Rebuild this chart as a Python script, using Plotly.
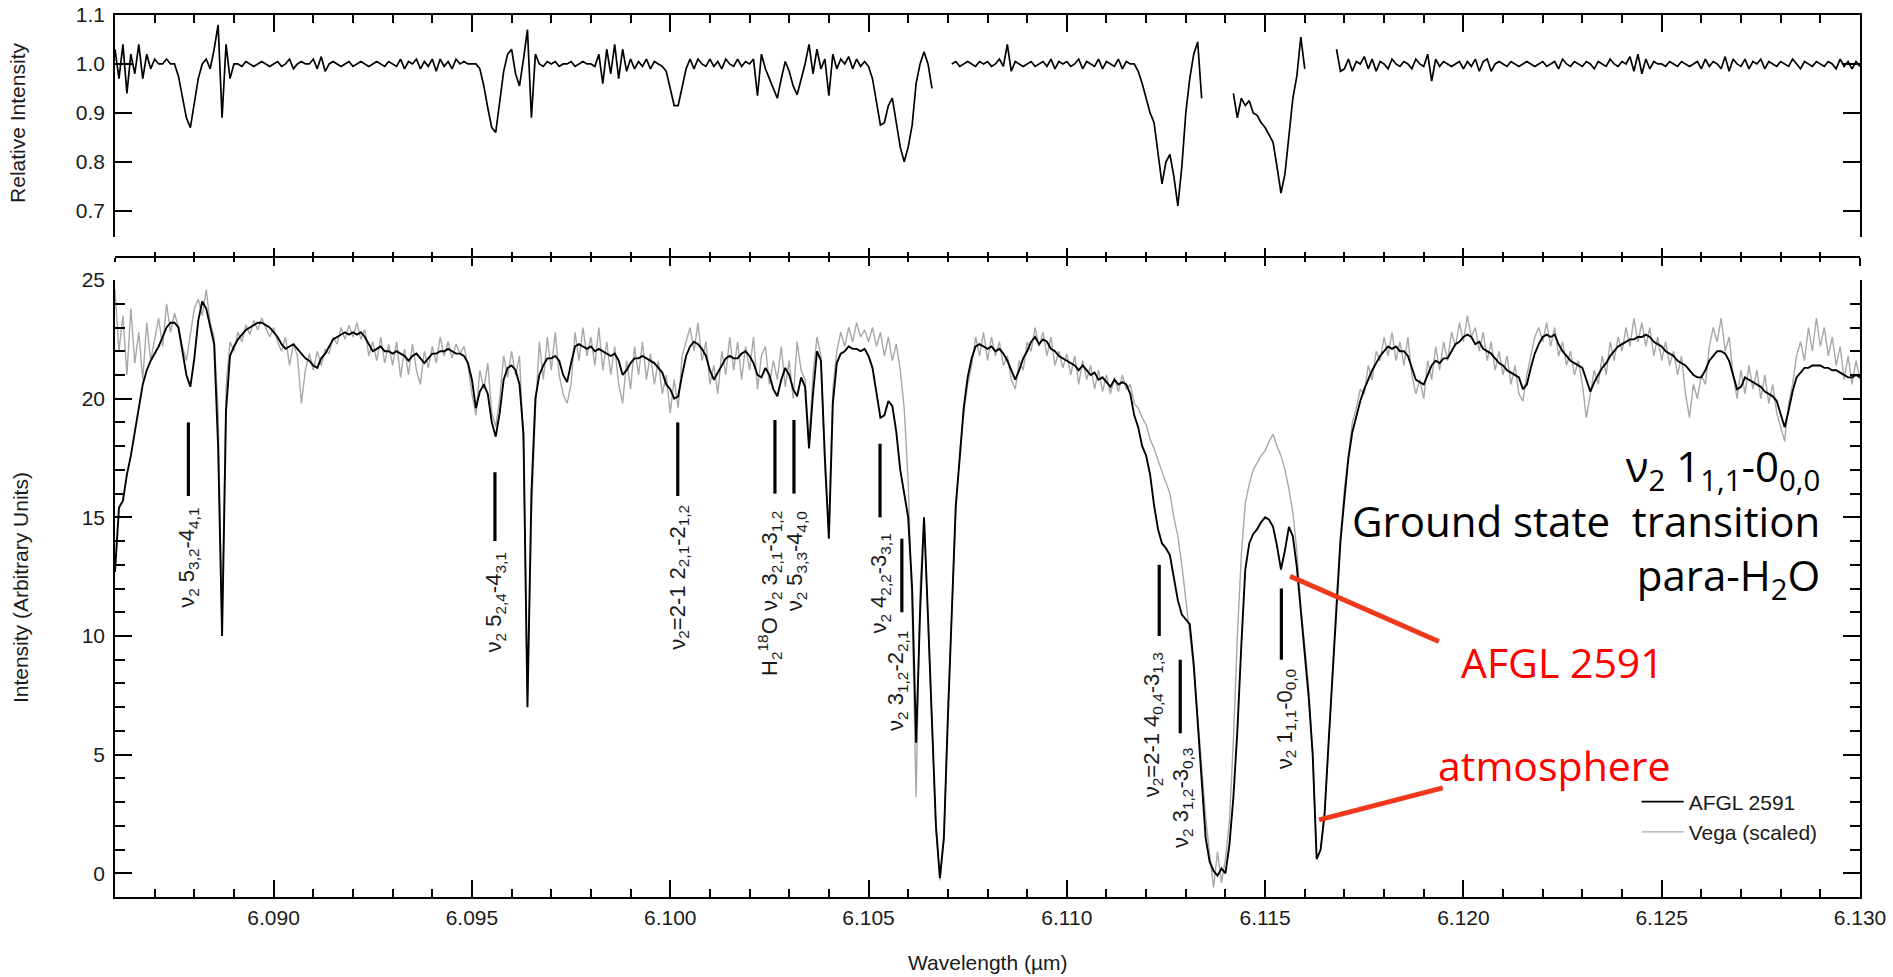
import numpy as np
import plotly.graph_objects as go

# ---------------- data ----------------
WL_START = 6.0860   # micron, first sample
WL_STEP = 0.0001    # micron, sampling step

# AFGL 2591 spectrum, bottom panel (arbitrary units), one row = 0.001 micron
AFGL_2591 = [
    12.7, 15.4, 15.7, 16.8, 17.6, 18.7, 19.6, 20.6, 21.2, 21.6,
    21.9, 22.2, 22.6, 23.0, 23.2, 23.2, 23.0, 22.0, 21.0, 20.5,
    21.7, 23.3, 24.1, 23.8, 23.1, 22.3, 18.0, 10.0, 19.5, 21.8,
    22.2, 22.5, 22.7, 22.9, 23.0, 23.1, 23.2, 23.2, 23.1, 23.0,
    22.8, 22.6, 22.3, 22.1, 22.2, 22.3, 22.1, 21.9, 21.7, 21.6,
    21.4, 21.3, 21.7, 21.9, 22.2, 22.5, 22.6, 22.7, 22.8, 22.7,
    22.8, 22.7, 22.8, 22.6, 22.3, 22.0, 22.1, 22.2, 22.0, 22.0,
    21.9, 22.0, 21.9, 21.8, 21.6, 21.8, 21.9, 21.7, 21.5, 21.7,
    21.9, 21.9, 22.0, 22.0, 22.1, 22.0, 21.9, 21.9, 21.8, 21.5,
    20.8, 19.6, 20.3, 20.6, 20.2, 19.0, 18.4, 19.4, 20.8, 21.3,
    21.4, 21.2, 20.6, 18.5, 7.0, 16.0, 20.0, 21.0, 21.4, 21.7,
    21.7, 21.8, 21.6, 21.0, 20.7, 21.5, 22.2, 22.3, 22.2, 22.1,
    22.2, 22.0, 22.1, 22.0, 21.9, 21.8, 21.9, 21.6, 21.0, 21.2,
    21.5, 21.7, 21.7, 21.8, 21.7, 21.6, 21.5, 21.3, 21.1, 20.6,
    20.4, 20.0, 20.1, 21.0, 21.8, 22.2, 22.4, 22.3, 22.1, 21.8,
    21.2, 20.8, 21.1, 21.4, 21.7, 21.8, 21.7, 21.7, 21.9, 22.0,
    21.8, 21.5, 21.0, 20.9, 21.3, 21.0, 20.4, 20.1, 20.8, 21.3,
    21.0, 20.4, 20.1, 20.9, 20.5, 17.9, 20.2, 22.0, 21.6, 17.5,
    14.1, 19.8, 21.5, 21.9, 22.0, 22.2, 22.1, 22.1, 22.0, 22.1,
    21.8, 21.3, 20.3, 19.2, 19.3, 19.9, 19.7, 18.6, 17.0, 16.0,
    15.0, 12.0, 5.5, 11.0, 15.0, 10.8, 6.2, 2.0, -0.2, 1.5,
    6.5, 11.0, 15.5, 17.5, 19.6, 20.9, 21.7, 22.2, 22.3, 22.2,
    22.1, 22.2, 22.0, 22.1, 21.9, 21.6, 21.2, 20.8, 21.2, 21.7,
    22.0, 22.4, 22.6, 22.3, 22.5, 22.4, 22.1, 22.0, 21.8, 21.7,
    21.6, 21.5, 21.4, 21.2, 21.4, 21.2, 21.0, 21.1, 20.8, 20.9,
    20.7, 20.5, 20.8, 20.6, 20.7, 20.6, 20.2, 19.3, 18.8, 18.0,
    17.6, 16.8, 15.5, 14.5, 13.9, 13.7, 13.4, 12.5, 11.5, 10.9,
    10.7, 10.5, 8.8, 6.5, 4.0, 1.5, 0.5, 0.1, -0.1, 0.2,
    0.0, 1.2, 3.2, 6.0, 9.6, 12.8, 13.9, 14.3, 14.5, 14.8,
    15.0, 14.9, 14.6, 13.8, 12.8, 13.6, 14.6, 14.2, 12.9, 11.0,
    9.2, 7.4, 5.0, 0.6, 1.0, 2.5, 5.5, 8.5, 11.5, 14.0,
    15.8, 17.5, 18.6, 19.3, 19.9, 20.4, 20.8, 21.2, 21.5, 21.8,
    22.0, 22.2, 22.1, 22.2, 22.0, 22.0, 21.8, 21.3, 20.8, 20.7,
    20.6, 21.0, 21.4, 21.6, 21.5, 21.7, 21.7, 22.0, 22.3, 22.4,
    22.6, 22.7, 22.6, 22.3, 22.4, 22.1, 22.0, 21.9, 21.7, 21.5,
    21.4, 21.2, 21.1, 21.0, 20.9, 20.4, 20.6, 21.3, 21.9, 22.3,
    22.6, 22.7, 22.6, 22.7, 22.3, 22.0, 21.8, 21.6, 21.5, 21.4,
    21.3, 20.8, 20.3, 20.7, 21.0, 21.3, 21.5, 21.8, 22.0, 22.2,
    22.3, 22.4, 22.5, 22.5, 22.6, 22.6, 22.7, 22.6, 22.4, 22.3,
    22.2, 22.0, 21.9, 21.8, 21.6, 21.5, 21.4, 21.2, 21.0, 20.9,
    20.9, 21.2, 21.6, 21.8, 22.0, 22.0, 21.9, 21.6, 21.0, 20.4,
    20.5, 20.9, 20.8, 20.7, 20.6, 20.5, 20.3, 20.2, 20.1, 19.9,
    19.4, 18.8, 19.5, 20.3, 20.9, 21.1, 21.3, 21.3, 21.4, 21.4,
    21.4, 21.3, 21.3, 21.2, 21.2, 21.1, 21.0, 20.9, 20.9, 21.0, 20.9,
]

# Vega (scaled) spectrum, bottom panel
VEGA_SCALED = [
    24.6, 22.0, 23.5, 21.0, 23.8, 21.5, 22.8, 20.8, 23.2, 21.6,
    22.5, 23.4, 22.2, 24.0, 22.8, 23.6, 23.0, 22.2, 21.6, 22.8,
    23.8, 24.2, 23.5, 24.6, 23.2, 22.6, 19.5, 10.2, 20.5, 22.4,
    22.0, 22.8, 22.4, 23.1, 22.7, 23.3, 22.9, 23.4, 23.0, 22.6,
    23.0, 22.4, 22.0, 22.6, 21.4, 22.3, 21.8, 19.8, 21.2, 21.9,
    21.2, 22.0, 21.4, 22.1, 21.9, 22.6, 22.3, 23.0, 22.5, 23.1,
    22.6, 23.2, 22.5, 22.9, 21.8, 22.4, 21.6, 22.6, 21.5, 22.3,
    21.4, 22.4, 20.9, 22.1, 21.0, 22.3, 21.2, 20.6, 22.0, 21.3,
    22.2, 21.5, 22.6, 21.8, 22.4, 21.7, 22.3, 21.9, 22.2, 21.4,
    20.2, 19.3, 21.2, 20.4, 21.5, 19.4, 18.8, 20.0, 21.8, 20.9,
    22.0, 21.0, 21.8, 18.0, 7.3, 15.0, 19.5, 22.4, 20.8, 22.6,
    21.2, 22.8, 21.0, 20.2, 19.8, 20.6, 22.8, 21.6, 23.0, 21.8,
    22.6, 21.4, 23.0, 21.2, 22.4, 21.0, 22.2, 20.6, 19.8, 21.6,
    20.4, 22.2, 21.0, 22.4, 20.8, 21.9, 20.6, 21.6, 20.2, 21.0,
    19.4, 20.8, 19.6, 21.8, 22.4, 23.0, 22.0, 23.2, 21.6, 22.4,
    20.6, 21.4, 20.2, 22.0, 21.0, 22.6, 21.2, 22.4, 20.8, 22.2,
    21.2, 22.6, 20.4, 21.8, 22.2, 20.6, 21.6, 20.8, 22.2, 20.5,
    21.6, 20.0, 22.4, 21.2, 20.8, 18.2, 21.0, 22.6, 21.8, 17.0,
    14.6, 20.4, 22.0, 22.8, 22.2, 23.0, 22.4, 23.2, 22.6, 22.9,
    22.4, 23.0, 22.2, 22.8, 21.8, 22.6, 21.6, 22.3, 21.2, 19.6,
    16.5, 11.0, 3.2, 12.0, 15.0, 10.5, 6.0, 1.8, -0.3, 1.4,
    6.8, 11.2, 15.2, 17.8, 19.4, 20.6, 21.4, 22.6, 21.8, 22.8,
    21.6, 22.6, 21.8, 22.4, 21.4, 21.8, 20.8, 20.4, 21.6, 21.2,
    22.4, 22.0, 23.0, 22.2, 22.8, 21.8, 22.6, 21.4, 22.0, 21.3,
    21.9, 21.0, 21.8, 20.6, 21.6, 20.8, 21.4, 20.4, 21.2, 20.3,
    21.0, 20.2, 20.9, 20.3, 21.0, 20.4, 20.6, 19.8, 19.6, 19.2,
    18.9, 18.3, 17.9, 17.4, 16.9, 16.4, 16.0, 15.0, 14.2, 13.0,
    11.6, 10.2, 8.6, 6.6, 4.4, 2.4, 0.8, -0.6, 0.9, -0.4,
    0.6, 2.2, 5.6, 10.0, 13.4, 15.6, 16.4, 17.0, 17.3, 17.6,
    17.8, 18.2, 18.5, 18.0, 17.6, 17.0, 16.2, 15.2, 13.6, 11.2,
    9.6, 7.8, 5.0, 0.6, 1.0, 2.6, 5.4, 8.8, 11.6, 14.2,
    16.2, 17.6, 19.0, 19.6, 20.4, 20.2, 21.4, 20.8, 22.0, 21.6,
    22.6, 21.8, 22.8, 21.6, 22.4, 21.4, 22.6, 21.0, 20.2, 20.8,
    20.0, 21.6, 20.8, 22.2, 21.2, 22.4, 21.6, 22.8, 22.2, 23.2,
    22.4, 23.5, 22.6, 23.0, 22.0, 22.8, 21.6, 22.4, 21.2, 22.0,
    21.0, 21.8, 20.6, 21.4, 20.2, 19.9, 21.0, 21.8, 22.6, 23.0,
    22.4, 23.2, 22.2, 23.0, 21.8, 22.4, 21.4, 22.0, 21.0, 21.6,
    20.6, 19.2, 20.2, 21.2, 20.6, 21.8, 21.0, 22.4, 21.6, 22.6,
    22.0, 23.0, 22.2, 23.4, 22.4, 23.2, 22.2, 23.0, 21.8, 22.6,
    21.6, 22.4, 21.4, 22.0, 21.0, 21.8, 20.2, 19.2, 20.6, 20.0,
    21.0, 20.6, 22.2, 23.0, 22.4, 23.4, 22.0, 22.6, 21.0, 20.0,
    21.2, 20.2, 21.4, 20.4, 21.2, 20.0, 21.0, 19.8, 20.6, 19.4,
    18.8, 18.2, 19.8, 20.6, 21.8, 22.4, 21.6, 23.0, 22.0, 23.4,
    22.2, 23.0, 21.8, 22.6, 21.4, 22.2, 20.8, 21.8, 20.6, 21.6, 20.8,
]

# Relative intensity, top panel (None = no data)
RELATIVE = [
    1.03, 0.97, 1.04, 0.94, 1.02, 0.98, 1.04, 0.97, 1.02, 0.99,
    1.01, 1.00, 1.00, 1.01, 1.00, 1.00, 0.975, 0.935, 0.89, 0.87,
    0.92, 0.97, 1.00, 1.01, 0.99, 1.03, 1.08, 0.89, 1.04, 0.97,
    1.00, 1.00, 0.995, 1.005, 1.00, 0.995, 1.00, 1.005, 1.00, 0.995,
    1.00, 1.005, 0.995, 1.00, 1.01, 0.99, 1.00, 1.005, 1.00, 1.00,
    1.01, 0.99, 1.015, 0.985, 1.00, 1.005, 1.00, 0.995, 1.00, 1.005,
    0.995, 1.00, 1.005, 1.00, 0.995, 1.00, 1.005, 1.00, 0.995, 1.005,
    1.00, 0.995, 1.01, 0.99, 1.005, 1.00, 1.01, 0.99, 1.005, 0.995,
    1.01, 0.985, 1.01, 0.995, 1.005, 0.99, 1.01, 1.00, 1.005, 1.00,
    1.00, 1.00, 0.99, 0.955, 0.91, 0.87, 0.86, 0.92, 0.985, 1.02,
    1.03, 0.98, 0.955, 1.01, 1.07, 0.89, 1.02, 1.00, 0.995, 1.005,
    1.00, 1.005, 0.995, 1.00, 1.00, 1.005, 0.995, 1.00, 1.005, 1.00,
    1.00, 0.995, 1.02, 0.96, 1.03, 0.98, 1.04, 0.97, 1.03, 0.985,
    1.01, 0.99, 1.005, 0.995, 1.01, 0.99, 1.005, 1.00, 0.995, 0.985,
    0.95, 0.915, 0.915, 0.95, 0.99, 1.01, 0.99, 1.01, 1.00, 0.995,
    1.01, 0.995, 1.005, 0.99, 1.01, 1.00, 0.995, 1.01, 0.995, 1.005,
    1.00, 1.01, 0.935, 1.02, 0.99, 0.97, 0.95, 0.93, 0.97, 1.005,
    0.985, 0.955, 0.937, 0.97, 1.00, 1.04, 0.98, 1.03, 0.99, 1.01,
    0.935, 1.02, 0.99, 1.01, 1.00, 1.015, 0.99, 1.01, 0.995, 1.005,
    0.995, 0.97, 0.925, 0.875, 0.88, 0.915, 0.93, 0.88, 0.83, 0.80,
    0.83, 0.875, 0.96, 1.00, 1.025, 1.00, 0.95, None, None, None,
    None, 1.00, 1.005, 0.995, 1.00, 1.005, 1.00, 0.995, 1.005, 1.00,
    1.005, 0.995, 1.00, 1.01, 0.995, 1.04, 0.985, 1.005, 1.00, 0.995,
    1.00, 1.005, 0.995, 1.00, 1.005, 0.995, 1.01, 0.99, 1.005, 1.00,
    1.005, 0.995, 1.00, 1.01, 0.99, 1.005, 1.00, 0.995, 1.01, 0.99,
    1.005, 1.00, 0.995, 1.01, 0.99, 1.005, 1.00, 1.00, 0.985, 0.96,
    0.93, 0.90, 0.88, 0.82, 0.755, 0.80, 0.815, 0.77, 0.71, 0.79,
    0.90, 0.97, 1.02, 1.045, 0.93, None, None, None, None, None,
    None, None, 0.94, 0.89, 0.93, 0.915, 0.925, 0.90, 0.895, 0.88,
    0.87, 0.855, 0.84, 0.79, 0.736, 0.775, 0.86, 0.93, 0.975, 1.055,
    0.99, None, None, None, None, None, None, None, 1.03, 0.985,
    0.99, 1.01, 0.985, 1.005, 1.00, 1.015, 0.99, 1.01, 0.985, 1.005,
    1.00, 0.99, 1.01, 1.00, 0.995, 1.005, 1.00, 0.99, 1.01, 1.00,
    0.995, 1.02, 0.965, 1.01, 0.995, 1.005, 1.00, 0.995, 1.00, 1.005,
    0.99, 1.005, 0.995, 1.01, 0.985, 1.005, 1.01, 0.985, 1.00, 1.005,
    1.00, 0.995, 1.005, 1.00, 0.995, 1.00, 1.005, 1.00, 0.995, 1.00,
    1.005, 0.995, 1.00, 1.005, 0.99, 1.01, 1.00, 0.995, 1.005, 1.00,
    0.995, 1.005, 1.00, 0.99, 1.005, 1.00, 0.995, 1.01, 1.00, 0.995,
    1.005, 1.00, 1.015, 0.985, 1.02, 0.98, 1.01, 0.99, 1.005, 1.00,
    1.00, 0.995, 1.005, 1.00, 0.995, 1.005, 1.00, 0.995, 1.00, 1.005,
    0.99, 1.01, 0.995, 1.005, 1.00, 0.99, 1.015, 0.985, 1.01, 1.00,
    0.995, 1.01, 0.99, 1.005, 1.00, 1.01, 0.99, 1.005, 1.00, 0.995,
    1.005, 1.00, 0.995, 1.01, 1.00, 0.99, 1.005, 1.00, 0.995, 1.005,
    1.00, 0.995, 1.005, 1.00, 0.99, 1.01, 0.995, 1.005, 0.99, 1.005, 0.995,
]

# identified transitions: marker bar (wavelength, top, bottom) and rotated label
LINE_WL = [6.08785, 6.09558, 6.10019, 6.10264, 6.10312, 6.10529, 6.10584, 6.11233, 6.11286, 6.11541]
LINE_Y_TOP = [19.0, 16.9, 19.0, 19.1, 19.1, 18.1, 14.1, 13.0, 9.0, 12.0]
LINE_Y_BOT = [15.9, 14.0, 15.9, 16.0, 16.0, 15.0, 11.0, 10.0, 5.9, 9.0]
LABEL_WL = [6.08785, 6.09558, 6.10020, 6.10250, 6.10318, 6.10529, 6.10572, 6.11216, 6.11292, 6.11551]
LABEL_TOP = [15.5, 13.6, 15.6, 15.35, 15.35, 14.4, 10.3, 9.4, 5.35, 8.7]
LABELS = [
    "ν<sub>2</sub> 5<sub>3,2</sub>-4<sub>4,1</sub>",
    "ν<sub>2</sub> 5<sub>2,4</sub>-4<sub>3,1</sub>",
    "ν<sub>2</sub>=2-1 2<sub>2,1</sub>-2<sub>1,2</sub>",
    "H<sub>2</sub><sup>18</sup>O ν<sub>2</sub> 3<sub>2,1</sub>-3<sub>1,2</sub>",
    "ν<sub>2</sub> 5<sub>3,3</sub>-4<sub>4,0</sub>",
    "ν<sub>2</sub> 4<sub>2,2</sub>-3<sub>3,1</sub>",
    "ν<sub>2</sub> 3<sub>1,2</sub>-2<sub>2,1</sub>",
    "ν<sub>2</sub>=2-1 4<sub>0,4</sub>-3<sub>1,3</sub>",
    "ν<sub>2</sub> 3<sub>1,2</sub>-3<sub>0,3</sub>",
    "ν<sub>2</sub> 1<sub>1,1</sub>-0<sub>0,0</sub>",
]

# explanatory text block
NOTE_LINES = ["ν<sub>2</sub> 1<sub>1,1</sub>-0<sub>0,0</sub>",
              "Ground state  transition",
              "para-H<sub>2</sub>O"]

# red call-out lines (wavelength, intensity)
CALLOUT_AFGL_WL = [6.11563, 6.11938]
CALLOUT_AFGL_Y = [12.52, 9.77]
CALLOUT_ATM_WL = [6.11636, 6.11948]
CALLOUT_ATM_Y = [2.25, 3.6]

X_RANGE = [6.086, 6.130]
Y_RANGE_BOTTOM = [-1, 25]
Y_RANGE_TOP = [0.647, 1.1]

# ---------------- figure ----------------
def grid(values):
    return np.round(WL_START + WL_STEP * np.arange(len(values)), 5)

AXIS_FONT = dict(family="Liberation Sans, Arial, sans-serif", size=21, color="#1a1a1a")
BIG_FONT = "Open Sans, Lato, sans-serif"

fig = go.Figure()

fig.add_trace(go.Scatter(x=grid(VEGA_SCALED), y=VEGA_SCALED, mode="lines", name="Vega (scaled)",
                         line=dict(color="#a8a8a8", width=1.4), legendrank=2, xaxis="x", yaxis="y"))
fig.add_trace(go.Scatter(x=grid(AFGL_2591), y=AFGL_2591, mode="lines", name="AFGL 2591",
                         line=dict(color="black", width=1.9), legendrank=1, xaxis="x", yaxis="y"))
fig.add_trace(go.Scatter(x=grid(RELATIVE), y=RELATIVE, mode="lines", showlegend=False,
                         line=dict(color="black", width=1.7), connectgaps=False, xaxis="x2", yaxis="y2"))

bx, by = [], []
for w, t, b in zip(LINE_WL, LINE_Y_TOP, LINE_Y_BOT):
    bx += [w, w, None]
    by += [t, b, None]
fig.add_trace(go.Scatter(x=bx, y=by, mode="lines", showlegend=False,
                         line=dict(color="black", width=3.2), xaxis="x", yaxis="y"))

for cx, cy in [(CALLOUT_AFGL_WL, CALLOUT_AFGL_Y), (CALLOUT_ATM_WL, CALLOUT_ATM_Y)]:
    fig.add_trace(go.Scatter(x=cx, y=cy, mode="lines", showlegend=False,
                             line=dict(color="#f0391c", width=5), xaxis="x", yaxis="y"))

# dummy traces so the middle (shared) tick axis is drawn
fig.add_trace(go.Scatter(x=[None], y=[None], xaxis="x3", yaxis="y", showlegend=False))
fig.add_trace(go.Scatter(x=[None], y=[None], xaxis="x4", yaxis="y", showlegend=False))

TOP_DOMAIN = [0.7486, 1.0]
BOTTOM_DOMAIN = [0.0, 0.6995]
MID_POS = 0.726

def xaxis_common(ticks, ticklen, minorlen, **kw):
    d = dict(range=X_RANGE, showgrid=False, zeroline=False, showline=True, linecolor="black",
             linewidth=1.5, ticks=ticks, ticklen=ticklen, tickwidth=1.5, tickcolor="black",
             tickmode="linear", tick0=6.085, dtick=0.005, tickformat=".3f", tickfont=AXIS_FONT,
             automargin=False,
             minor=dict(ticks=ticks, ticklen=minorlen, tickwidth=1.5, tickcolor="black",
                        dtick=0.001, tick0=6.085, showgrid=False))
    d.update(kw)
    return d

fig.update_layout(
    width=1893, height=977,
    margin=dict(l=115, r=33, t=15, b=80, autoexpand=False),
    paper_bgcolor="white", plot_bgcolor="white",
    showlegend=True,
    xaxis=xaxis_common("inside", 17, 8, domain=[0, 1], anchor="y", ticklabelstandoff=1),
    xaxis2=xaxis_common("inside", 17, 8, domain=[0, 1], anchor="y2", side="top", showticklabels=False),
    xaxis3=xaxis_common("inside", 8, 4, overlaying="x", anchor="free", position=MID_POS,
                        showticklabels=False),
    xaxis4=xaxis_common("outside", 8, 4, overlaying="x", anchor="free", position=MID_POS,
                        showticklabels=False, showline=False),
    yaxis=dict(domain=BOTTOM_DOMAIN, range=Y_RANGE_BOTTOM, anchor="x", showgrid=False, zeroline=False,
               showline=True, linecolor="black", linewidth=1.5, mirror="ticks", automargin=False,
               ticks="inside", ticklen=17, tickwidth=1.5, tickcolor="black",
               tickvals=[0, 5, 10, 15, 20, 25], tickfont=AXIS_FONT, ticklabelstandoff=4,
               minor=dict(ticks="inside", ticklen=10, tickwidth=1.5, tickcolor="black",
                          dtick=1, tick0=0, showgrid=False)),
    yaxis2=dict(domain=TOP_DOMAIN, range=Y_RANGE_TOP, anchor="x2", showgrid=False, zeroline=False,
                showline=True, linecolor="black", linewidth=1.5, mirror="ticks", automargin=False,
                ticks="inside", ticklen=17, tickwidth=1.5, tickcolor="black",
                tickvals=[0.7, 0.8, 0.9, 1.0, 1.1], ticktext=["0.7", "0.8", "0.9", "1.0", "1.1"],
                tickfont=AXIS_FONT, ticklabelstandoff=4),
    legend=dict(x=0.872, y=0.131, xanchor="left", yanchor="top", bgcolor="rgba(0,0,0,0)",
                font=dict(family="Liberation Sans, Arial, sans-serif", size=21, color="#1a1a1a"),
                itemwidth=42, tracegroupgap=0),
)

ann = []
# axis titles
ann.append(dict(text="Relative Intensity", xref="paper", yref="paper", x=-0.0556, y=0.8776,
                textangle=-90, showarrow=False, font=AXIS_FONT, xanchor="center", yanchor="middle"))
ann.append(dict(text="Intensity (Arbitrary Units)", xref="paper", yref="paper", x=-0.0544, y=0.3503,
                textangle=-90, showarrow=False, font=AXIS_FONT, xanchor="center", yanchor="middle"))
ann.append(dict(text="Wavelength (µm)", xref="paper", yref="paper", x=0.5, y=-0.0748,
                showarrow=False, font=AXIS_FONT, xanchor="center", yanchor="middle"))

# transition labels
for w, t, lab in zip(LABEL_WL, LABEL_TOP, LABELS):
    ann.append(dict(text=lab, x=w, y=t, xref="x", yref="y", textangle=-90, showarrow=False,
                    xanchor="center", yanchor="top",
                    font=dict(family="Liberation Sans, Arial, sans-serif", size=22, color="#1a1a1a")))

# big explanatory text (one right-aligned block)
ann.append(dict(text="<br>".join(NOTE_LINES), xref="paper", yref="paper",
                x=0.9782, y=0.424, xanchor="right", yanchor="middle", align="right",
                showarrow=False, font=dict(family=BIG_FONT, size=42, color="black")))
red = dict(family=BIG_FONT, size=41, color="#ff0000")
ann.append(dict(text="AFGL 2591", xref="paper", yref="paper", x=0.7702, y=0.267,
                xanchor="left", yanchor="middle", showarrow=False, font=red))
ann.append(dict(text="atmosphere", xref="paper", yref="paper", x=0.757, y=0.1502,
                xanchor="left", yanchor="middle", showarrow=False, font=red))

fig.update_layout(annotations=ann)

# remove the default page margin so the figure sits exactly in the window
PAGE_JS = ("document.body.style.margin='0px';"
           "document.documentElement.style.overflow='hidden';"
           "document.body.style.overflow='hidden';")
fig.write_html("out.html", post_script=PAGE_JS, config={"displayModeBar": False})
